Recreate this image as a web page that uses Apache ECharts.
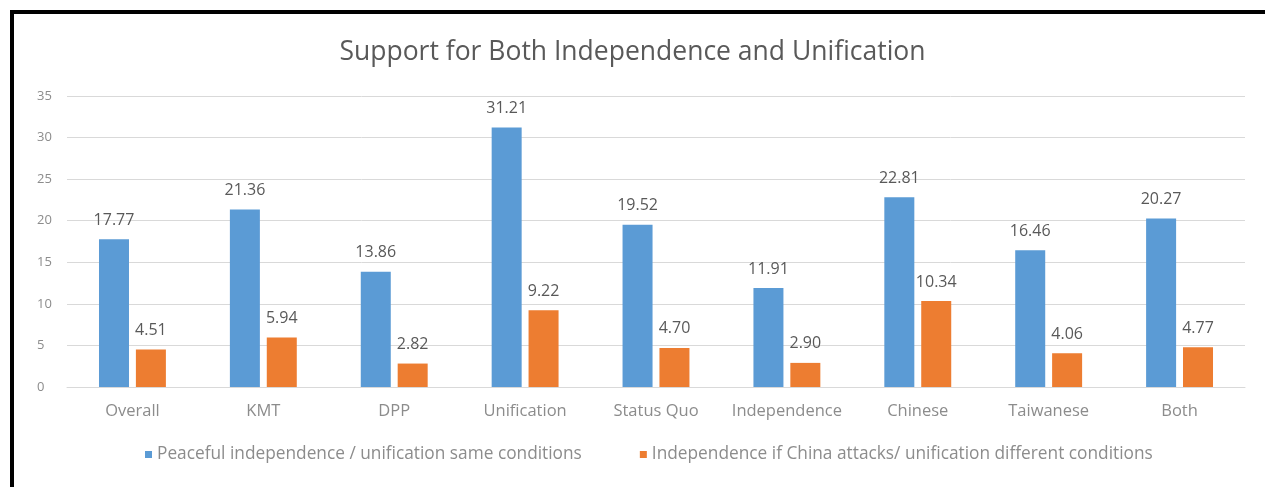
<!DOCTYPE html>
<html><head><meta charset="utf-8">
<script src="https://cdn.jsdelivr.net/npm/echarts@6/dist/echarts.min.js"></script>
<style>
html,body{margin:0;padding:0;background:#fff;}
#frame{position:absolute;left:10px;top:10px;width:1260px;height:490px;border-left:4px solid #000;border-top:4px solid #000;box-sizing:border-box;}
#chart{position:absolute;left:0;top:0;width:1265px;height:487px;}
</style></head>
<body>
<div id="frame"></div>
<div id="chart"></div>
<script>
const titleText = 'Support for Both Independence and Unification';
const categories = ['Overall','KMT','DPP','Unification','Status Quo','Independence','Chinese','Taiwanese','Both'];
const seriesNames = ['Peaceful independence / unification same conditions','Independence if China attacks/ unification different conditions'];
const peaceful = [17.77,21.36,13.86,31.21,19.52,11.91,22.81,16.46,20.27];
const attacks = [4.51,5.94,2.82,9.22,4.70,2.90,10.34,4.06,4.77];
const yTicks = [0,5,10,15,20,25,30,35];

const chart = echarts.init(document.getElementById('chart'));
const font = '"Open Sans", "DejaVu Sans", sans-serif';
const lbl = {show:true,position:'top',distance:11,color:'#595959',fontSize:16,fontFamily:font,formatter:p=>p.value.toFixed(2)};
chart.setOption({
  animation:false,
  title:{text:titleText,left:'center',top:34,textStyle:{fontFamily:font,fontWeight:'normal',fontSize:26.5,color:'#595959'}},
  legend:{bottom:19,left:140,itemWidth:7,itemHeight:7,itemGap:58,icon:'rect',textStyle:{fontFamily:font,fontSize:17.3,color:'#8c8c8c'},data:seriesNames},
  grid:{left:67,right:20,top:96,bottom:100,containLabel:false},
  xAxis:{type:'category',data:categories,axisLine:{lineStyle:{color:'#d9d9d9'}},axisTick:{show:false},
    axisLabel:{fontFamily:font,fontSize:16.5,color:'#8c8c8c',margin:16,interval:0}},
  yAxis:{type:'value',min:yTicks[0],max:yTicks[yTicks.length-1],interval:5,
    axisLabel:{fontFamily:font,fontSize:13,color:'#8c8c8c',margin:30,align:'left'},
    splitLine:{lineStyle:{color:'#d9d9d9'}},axisLine:{show:false},axisTick:{show:false}},
  series:[
    {name:seriesNames[0],type:'bar',data:peaceful,barWidth:30,barGap:'23%',itemStyle:{color:'#5b9bd5'},label:lbl},
    {name:seriesNames[1],type:'bar',data:attacks,barWidth:30,barGap:'23%',itemStyle:{color:'#ed7d31'},label:lbl}
  ]
});
</script>
</body></html>
